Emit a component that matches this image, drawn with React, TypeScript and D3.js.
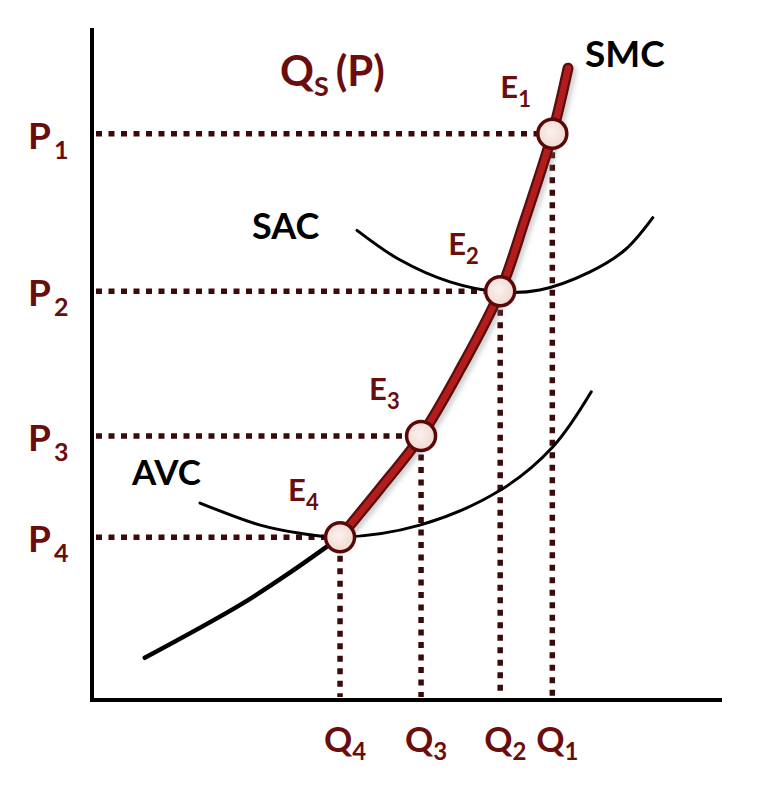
import * as d3 from 'd3'

// Equilibrium points E1..E4 (quantity, price)
const eqLabels = ['1', '2', '3', '4']
const eqQ = [73.3, 65.0, 52.4, 39.5]
const eqP = [84.5, 61.0, 39.4, 24.3]

// Short-run marginal cost curve
const smcQ = [8.4, 23.6, 31.5, 39.5, 45.9, 52.4, 58.6, 65.0, 68.9, 73.3, 75.8]
const smcP = [6.3, 14.2, 19.0, 24.3, 31.6, 39.4, 49.3, 61.0, 71.6, 84.5, 94.3]
const smcSplit = 3 // index of E4 on SMC: supply curve starts here

// Short-run average cost curve
const sacQ = [42.2, 49.0, 57.0, 65.0, 71.3, 79.3, 84.9, 89.3]
const sacP = [70.1, 65.7, 62.4, 60.9, 61.2, 63.9, 67.2, 72.0]

// Average variable cost curve
const avcQ = [17.2, 26.8, 33.1, 39.5, 52.2, 65.0, 73.4, 79.5]
const avcP = [29.4, 26.1, 24.9, 24.3, 26.1, 31.3, 37.8, 46.0]

const W = 764
const H = 788
const RED_TEXT = '#6a0d0d'
const DOT = '#3d0a0a'
const FONT = 'Lato, "Open Sans", sans-serif'

const x = d3.scaleLinear().domain([0, 100]).range([92, 720])
const y = d3.scaleLinear().domain([0, 100]).range([700, 30])

const line = d3
  .line<[number, number]>()
  .x(d => x(d[0]))
  .y(d => y(d[1]))
  .curve(d3.curveCatmullRom.alpha(0.5))

const zip = (a: number[], b: number[]) => a.map((v, i) => [v, b[i]] as [number, number])

export default function App() {
  const smc = zip(smcQ, smcP)
  const smcLow = smc.slice(0, smcSplit + 1)
  const smcHigh = smc.slice(smcSplit)
  const sac = zip(sacQ, sacP)
  const avc = zip(avcQ, avcP)
  const r = 14.5

  return (
    <svg width={W} height={H} style={{ position: 'absolute', left: 0, top: 0, background: '#fff' }}>
      <defs>
        <filter id="shadow" x="-20%" y="-20%" width="140%" height="140%">
          <feDropShadow dx="3" dy="3" stdDeviation="2.5" floodColor="#777" floodOpacity="0.35" />
        </filter>
        <radialGradient id="dotfill" cx="45%" cy="45%" r="60%">
          <stop offset="0%" stopColor="#fbf1ee" />
          <stop offset="100%" stopColor="#efd6cf" />
        </radialGradient>
      </defs>

      {/* axes */}
      <g stroke="#000" strokeWidth={4} strokeLinecap="square">
        <line x1={x(0)} x2={x(0)} y1={y(100)} y2={y(0)} />
        <line x1={x(0)} x2={x(100)} y1={y(0)} y2={y(0)} />
      </g>

      {/* dotted guide lines */}
      <g stroke={DOT} strokeWidth={5.5} strokeDasharray="6 6.5">
        {eqQ.map((q, i) => (
          <g key={i}>
            <line x1={x(0) + 4} x2={x(q) - r} y1={y(eqP[i])} y2={y(eqP[i])} />
            <line x1={x(q)} x2={x(q)} y1={y(eqP[i]) + r + 4} y2={y(0) - 3} />
          </g>
        ))}
      </g>

      {/* cost curves */}
      <g fill="none" stroke="#000" strokeLinecap="round">
        <path d={line(sac) ?? ''} strokeWidth={3} />
        <path d={line(avc) ?? ''} strokeWidth={3} />
        <path d={line(smcLow) ?? ''} strokeWidth={4.5} />
      </g>

      {/* supply curve: SMC above AVC minimum */}
      <g fill="none" strokeLinecap="round" filter="url(#shadow)">
        <path d={line(smcHigh) ?? ''} stroke="#5a0808" strokeWidth={11} />
        <path d={line(smcHigh) ?? ''} stroke="#b21e1e" strokeWidth={6.5} />
      </g>

      {/* equilibrium points */}
      {eqQ.map((q, i) => (
        <circle
          key={i}
          cx={x(q)}
          cy={y(eqP[i])}
          r={r}
          fill="url(#dotfill)"
          stroke="#5a0808"
          strokeWidth={3.5}
        />
      ))}

      <g fontFamily={FONT} fontWeight={700}>
        {/* E labels */}
        {eqQ.map((q, i) => (
          <text key={i} x={x(q) - 52} y={y(eqP[i]) - 36} fill={RED_TEXT} fontSize={31}>
            E<tspan fontSize={22} dy={9}>{eqLabels[i]}</tspan>
          </text>
        ))}

        {/* P labels */}
        {eqP.map((p, i) => (
          <text key={i} x={28} y={y(p) + 15} fill={RED_TEXT} fontSize={37}>
            P<tspan fontSize={25} dy={10} dx={3}>{eqLabels[i]}</tspan>
          </text>
        ))}

        {/* Q labels */}
        {eqQ.map((q, i) => (
          <text key={i} x={x(q) - 16} y={752} fill={RED_TEXT} fontSize={35}>
            Q<tspan fontSize={24} dy={8}>{eqLabels[i]}</tspan>
          </text>
        ))}

        {/* curve labels */}
        <text x={585} y={67} fontSize={37} fill="#000">SMC</text>
        <text x={252} y={239} fontSize={36} fill="#000">SAC</text>
        <text x={132} y={485} fontSize={35} fill="#000">AVC</text>

        {/* supply function label */}
        <text x={280} y={86} fontSize={42} fill={RED_TEXT}>
          Q<tspan fontSize={27} dy={10}>S</tspan>
          <tspan dy={-10} dx={7}>(P)</tspan>
        </text>
      </g>
    </svg>
  )
}
